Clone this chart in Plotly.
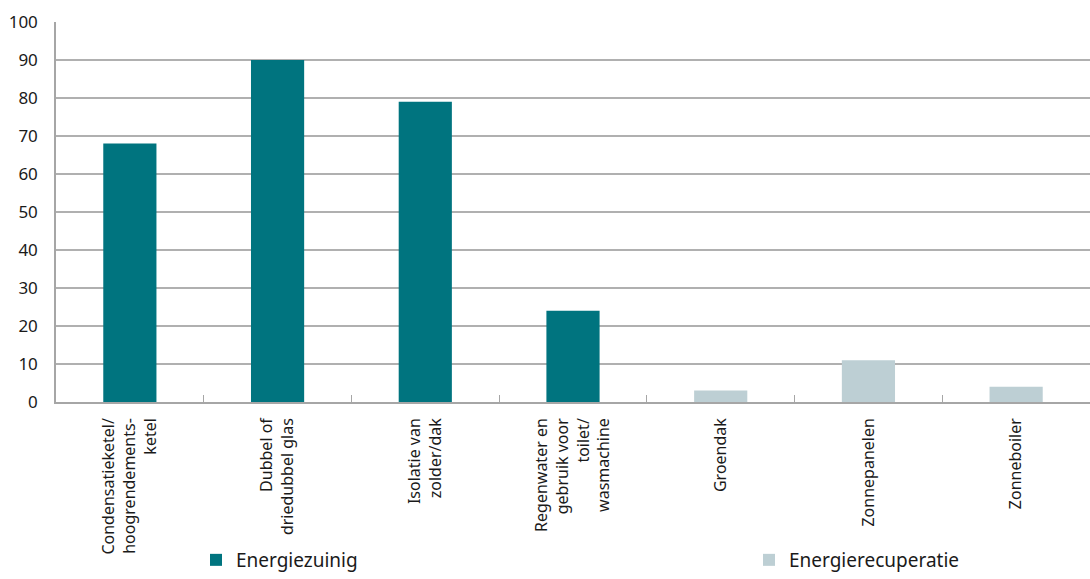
import plotly.graph_objects as go

categories = [
    "Condensatieketel/<br>hoogrendements-<br>ketel",
    "Dubbel of<br>driedubbel glas",
    "Isolatie van<br>zolder/dak",
    "Regenwater en<br>gebruik voor<br>toilet/<br>wasmachine",
    "Groendak",
    "Zonnepanelen",
    "Zonneboiler",
]
zuinig_cats = categories[:4]
zuinig_vals = [68, 90, 79, 24]
recup_cats = categories[4:]
recup_vals = [3, 11, 4]
y_ticks = [0, 10, 20, 30, 40, 50, 60, 70, 80, 90, 100]

fig = go.Figure()
fig.add_trace(go.Bar(x=zuinig_cats, y=zuinig_vals, name="Energiezuinig",
                     marker=dict(color="#00747F", line=dict(width=0)), width=0.36,
                     legend="legend"))
fig.add_trace(go.Bar(x=recup_cats, y=recup_vals, name="Energierecuperatie",
                     marker=dict(color="#BDCFD4", line=dict(width=0)), width=0.36,
                     legend="legend2"))

fig.update_layout(
    width=1090, height=579,
    margin=dict(l=56, r=0, t=22, b=177, autoexpand=False),
    paper_bgcolor="white", plot_bgcolor="white",
    font=dict(family="Noto Sans", color="#1a1a1a"),
    barmode="relative",
    bargap=0.64,
    showlegend=True,
    legend=dict(orientation="h", xref="container", yref="container",
                x=196/1090, y=-0.028, xanchor="left", yanchor="bottom",
                font=dict(size=19), bgcolor="rgba(0,0,0,0)"),
    legend2=dict(orientation="h", xref="container", yref="container",
                 x=749/1090, y=-0.028, xanchor="left", yanchor="bottom",
                 font=dict(size=19), bgcolor="rgba(0,0,0,0)"),
)
fig.update_xaxes(
    type="category", categoryorder="array", categoryarray=categories,
    tickangle=-90, tickfont=dict(size=16, color="#1a1a1a"),
    showline=True, linecolor="#a6a6a6", linewidth=1.5,
    ticks="inside", tickson="boundaries", ticklen=7, tickcolor="#a6a6a6",
    showgrid=False, automargin=False, ticklabelstandoff=8,
)
fig.update_yaxes(
    range=[0, 100], tickvals=y_ticks, tickfont=dict(size=17, color="#1a1a1a"),
    showgrid=True, gridcolor="#b0b0b0", gridwidth=1.5,
    showline=True, linecolor="#a6a6a6", linewidth=1.5,
    ticks="outside", ticklen=13, tickcolor="rgba(0,0,0,0)",
    zeroline=False, automargin=False,
)

fig.write_html("out.html")
